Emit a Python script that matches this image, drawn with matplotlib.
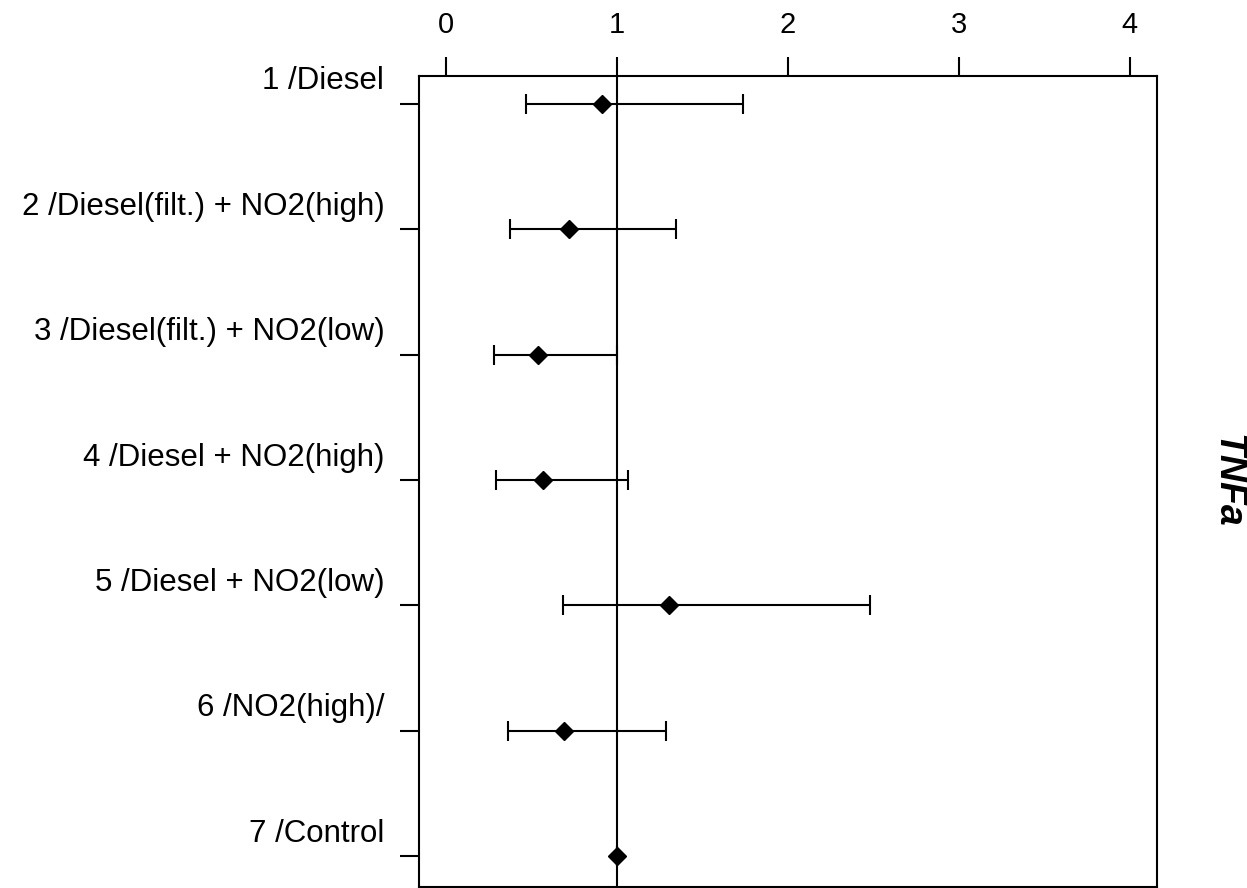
import matplotlib.pyplot as plt
from matplotlib.transforms import ScaledTranslation

plt.rcParams['font.family'] = ['Liberation Sans', 'DejaVu Sans']

groups = [
    "1 /Diesel",
    "2 /Diesel(filt.) + NO2(high)",
    "3 /Diesel(filt.) + NO2(low)",
    "4 /Diesel + NO2(high)",
    "5 /Diesel + NO2(low)",
    "6 /NO2(high)/",
    "7 /Control",
]
ratio = [0.91, 0.72, 0.54, 0.565, 1.305, 0.69, 1.0]
ci_low = [0.47, 0.375, 0.28, 0.29, 0.685, 0.36, 1.0]
ci_high = [1.735, 1.345, 1.0, 1.065, 2.48, 1.285, 1.0]
xticks = [0, 1, 2, 3, 4]


def main():
    fig = plt.figure(figsize=(12.47, 8.88), dpi=100)
    ax = fig.add_axes([0.336, 0.0011, 0.592, 0.9133])

    pos = list(range(1, len(groups) + 1))
    err = [[r - lo for r, lo in zip(ratio, ci_low)],
           [hi - r for r, hi in zip(ratio, ci_high)]]

    ax.axvline(1, color='black', lw=1.5, zorder=1)
    ax.errorbar(ratio, pos, xerr=err, fmt='D', color='black', ms=9,
                elinewidth=1.5, capsize=7, capthick=1.5, zorder=3)

    ax.set_xlim(-0.158, 4.16)
    ax.set_ylim(7.247, 0.777)

    ax.xaxis.tick_top()
    ax.set_xticks(xticks)
    ax.set_xticklabels([str(t) for t in xticks])
    ax.tick_params(axis='x', which='major', length=14, width=1.5, pad=13,
                   labelsize=21, bottom=False)
    ax.set_yticks(pos)
    ax.set_yticklabels(groups)
    ax.tick_params(axis='y', which='major', length=14, width=1.5, pad=11,
                   labelsize=22.5)
    offset = ScaledTranslation(0, 26 / 100, fig.dpi_scale_trans)
    for lab in ax.get_yticklabels():
        lab.set_transform(lab.get_transform() + offset)

    for sp in ax.spines.values():
        sp.set_linewidth(1.5)

    fig.text(0.984, 0.459, "TNFa", rotation=270, fontsize=27,
             fontweight='bold', fontstyle='italic', ha='center', va='center')

    fig.savefig("out.png", dpi=100)


if __name__ == "__main__":
    main()
